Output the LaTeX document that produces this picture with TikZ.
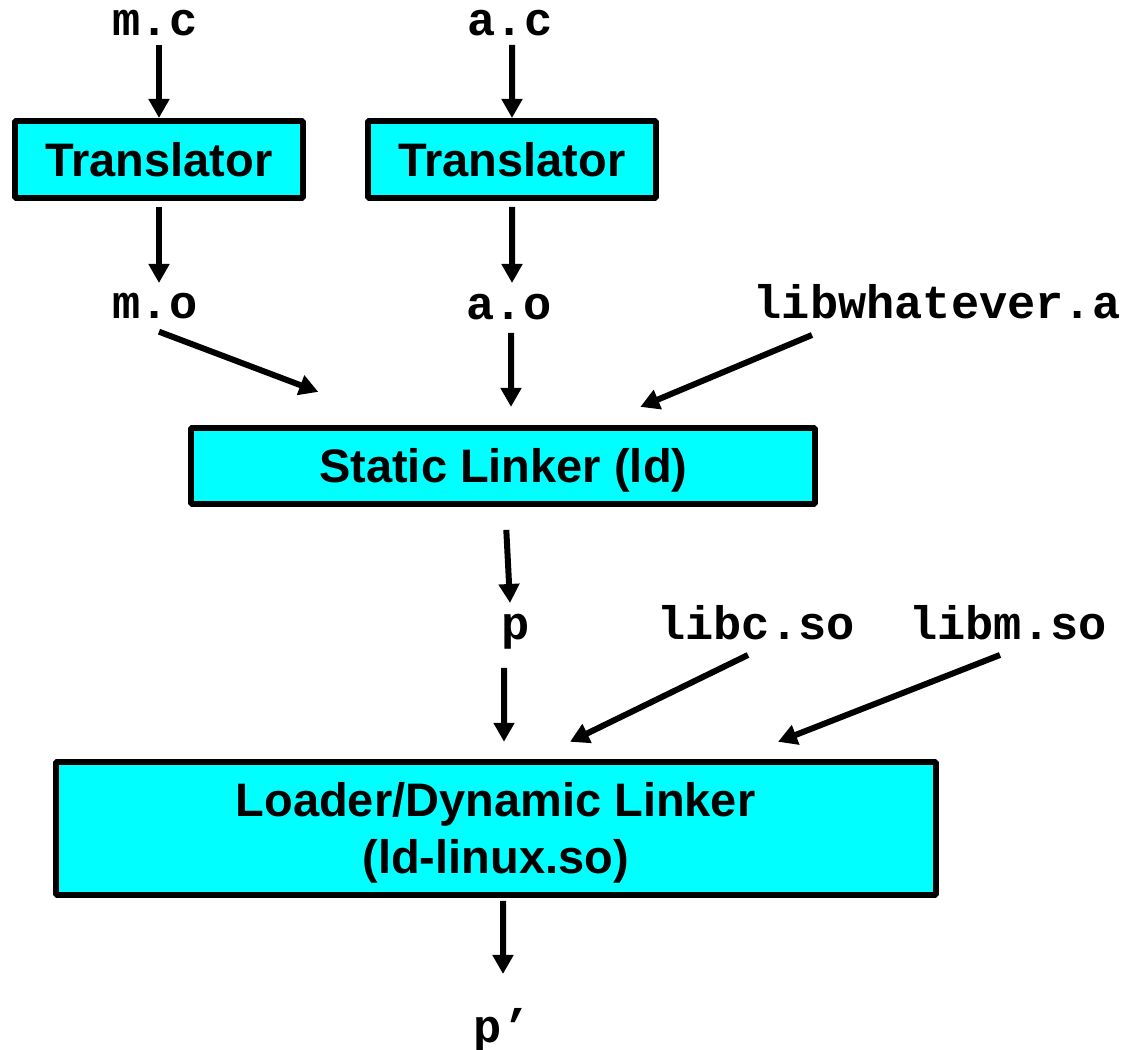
\documentclass[tikz,border=0pt]{standalone}
\usepackage{fontspec}
\setmainfont{Liberation Sans}
\newfontfamily\codefont{Liberation Mono}
\usepackage{tikz}
\usetikzlibrary{arrows.meta,shapes}
\definecolor{boxcol}{rgb}{0.0,1.0,1.0}
\tikzset{
  toolbox/.style={draw=black,fill=boxcol,line width=6bp,inner sep=0pt,text depth=0pt,
    align=center,font=\bfseries\fontsize{47bp}{57bp}\selectfont},
  filelabel/.style={anchor=base,inner sep=0pt,text height=24bp,text depth=10bp,
    font=\codefont\bfseries\fontsize{47bp}{47bp}\selectfont},
}

\begin{document}
\begin{tikzpicture}[>={Triangle[width=20bp,length=19bp]},line join=bevel]
  \pgfsetlinewidth{6bp}
  \useasboundingbox (0bp,0bp) rectangle (1126bp,1050bp);
%%
  % Node: m.c
  \node[filelabel] (mc) at (155bp,1014bp) {m.c};
  % Node: a.c
  \node[filelabel] (ac) at (510bp,1014bp) {a.c};
  % Node: Translator (m)
  \node[toolbox,minimum width=288bp,minimum height=77bp] (trm) at (159bp,890.5bp) {Translator};
  % Node: Translator (a)
  \node[toolbox,minimum width=288bp,minimum height=77bp] (tra) at (512bp,890.5bp) {Translator};
  % Node: m.o
  \node[filelabel] (mo) at (155bp,731bp) {m.o};
  % Node: a.o
  \node[filelabel] (ao) at (509bp,730bp) {a.o};
  % Node: libwhatever.a
  \node[filelabel] (lw) at (937bp,731bp) {libwhatever.a};
  % Node: Static Linker
  \node[toolbox,minimum width=624bp,minimum height=76bp] (sl) at (503.3bp,584.1bp) {Static Linker (ld)};
  % Node: p
  \node[filelabel] (p) at (516bp,410bp) {p};
  % Node: libc.so
  \node[filelabel] (libc) at (756bp,410bp) {libc.so};
  % Node: libm.so
  \node[filelabel] (libm) at (1008bp,410bp) {libm.so};
  % Node: Loader
  \node[toolbox,minimum width=880bp,minimum height=133bp] (ld) at (495.5bp,221.7bp) {Loader/Dynamic Linker\\(ld-linux.so)};
  % Node: p'
  \node[filelabel] (pp) at (502bp,8bp) {p’};
%%
  % Edge: m.c -> Translator
  \draw [->] ([shift={(4bp,-9bp)}]mc.base) -- (trm.north);
  % Edge: a.c -> Translator
  \draw [->] ([shift={(2bp,-9bp)}]ac.base) -- (tra.north);
  % Edge: Translator -> m.o
  \draw [->] ([yshift=-6bp]trm.south) -- ([shift={(4bp,36bp)}]mo.base);
  % Edge: Translator -> a.o
  \draw [->] ([yshift=-6bp]tra.south) -- ([shift={(3bp,37bp)}]ao.base);
  % Edge: m.o -> Static Linker
  \draw [->] ([shift={(4bp,-12.7bp)}]mo.base) -- ([shift={(-185bp,33bp)}]sl.north);
  % Edge: a.o -> Static Linker
  \draw [->] ([shift={(2bp,-13bp)}]ao.base) -- ([shift={(7.7bp,18bp)}]sl.north);
  % Edge: libwhatever.a -> Static Linker
  \draw [->] ([shift={(-125bp,-16bp)}]lw.base) -- ([shift={(137bp,18bp)}]sl.north);
  % Edge: Static Linker -> p
  \draw [->] ([shift={(3bp,-23bp)}]sl.south) -- ([shift={(-6bp,37bp)}]p.base);
  % Edge: p -> Loader
  \draw [->] ([shift={(-12bp,-28bp)}]p.base) -- ([shift={(8.5bp,17bp)}]ld.north);
  % Edge: libc.so -> Loader
  \draw [->] ([shift={(-8bp,-15bp)}]libc.base) -- ([shift={(74.5bp,17bp)}]ld.north);
  % Edge: libm.so -> Loader
  \draw [->] ([shift={(-8bp,-15bp)}]libm.base) -- ([shift={(282.5bp,17bp)}]ld.north);
  % Edge: Loader -> p'
  \draw [->] ([shift={(7.5bp,-3bp)}]ld.south) -- ([shift={(1bp,68bp)}]pp.base);
%
\end{tikzpicture}
\end{document}
